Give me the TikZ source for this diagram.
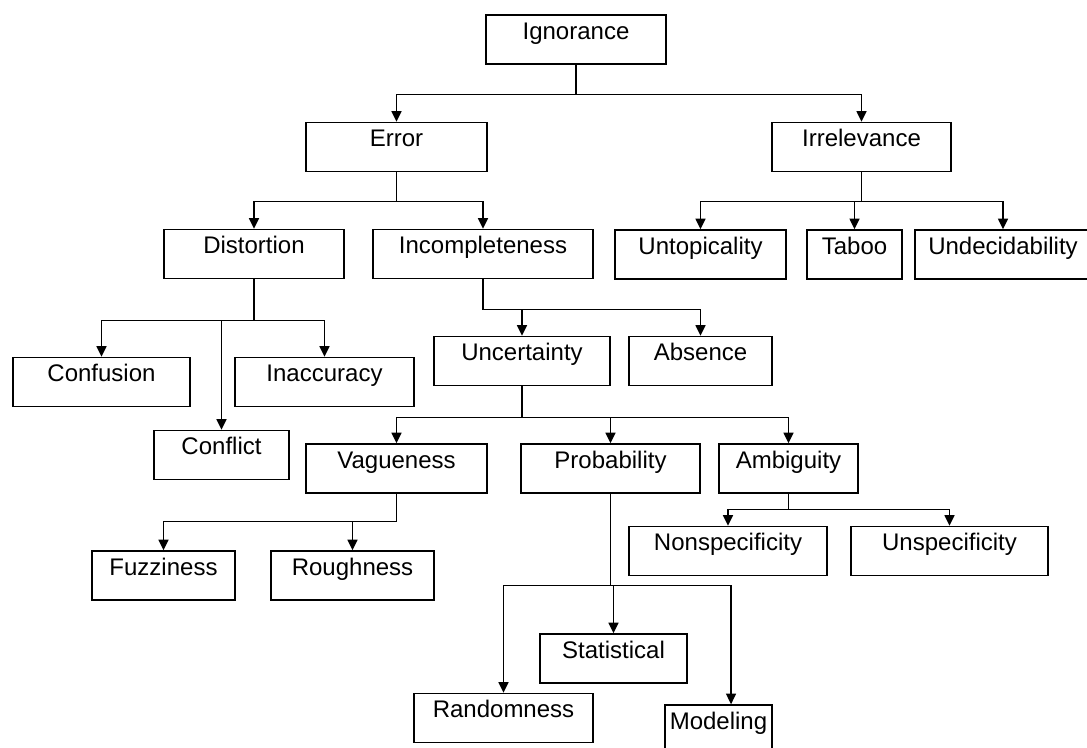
\documentclass[tikz,border=0pt]{standalone}
\usepackage{fontspec}
\setmainfont{Liberation Sans}
\usetikzlibrary{arrows.meta}

\tikzset{every picture/.style={line width=0.75pt}}

\begin{document}
\begin{tikzpicture}[x=0.75pt,y=0.75pt,yscale=-1,xscale=1,
	box/.style={draw, line width=1.1pt, inner sep=0pt, text height=18pt, text depth=18.75pt, font=\fontsize{18}{20}\selectfont},
	bw/.style={minimum width=#1*0.75pt},
	link/.style={draw, line width=1.1pt, -{Triangle[length=8pt,width=7.5pt]}}]
	%set diagram size to 1087 x 747
	\useasboundingbox (0,0) rectangle (1087,747);
	\clip (0,0) rectangle (1087,747);
	
	%Shape: Rectangle [id:ignorance] 
	\node [box,bw=180] (ign) at (576,39.5) {Ignorance};
	%Shape: Rectangle [id:error] 
	\node [box,bw=181] (err) at (396.5,147) {Error};
	%Shape: Rectangle [id:irrelevance] 
	\node [box,bw=179] (irr) at (861.5,147) {Irrelevance};
	%Shape: Rectangle [id:distortion] 
	\node [box,bw=180] (dis) at (254,254) {Distortion};
	%Shape: Rectangle [id:incompleteness] 
	\node [box,bw=220] (inc) at (483,254) {Incompleteness};
	%Shape: Rectangle [id:untopicality] 
	\node [box,bw=171] (unt) at (700.5,254.5) {Untopicality};
	%Shape: Rectangle [id:taboo] 
	\node [box,bw=95] (tab) at (854.5,254.5) {Taboo};
	%Shape: Rectangle [id:undecidability] 
	\node [box,bw=176] (und) at (1003,254.5) {Undecidability};
	%Shape: Rectangle [id:confusion] 
	\node [box,bw=177] (cnf) at (101.5,382) {Confusion};
	%Shape: Rectangle [id:inaccuracy] 
	\node [box,bw=179] (ina) at (324.5,382) {Inaccuracy};
	%Shape: Rectangle [id:conflict] 
	\node [box,bw=135] (cfl) at (221.5,455) {Conflict};
	%Shape: Rectangle [id:uncertainty] 
	\node [box,bw=176] (unc) at (522,361) {Uncertainty};
	%Shape: Rectangle [id:absence] 
	\node [box,bw=143] (abs) at (700.5,361) {Absence};
	%Shape: Rectangle [id:vagueness] 
	\node [box,bw=181] (vag) at (396.5,468.5) {Vagueness};
	%Shape: Rectangle [id:probability] 
	\node [box,bw=179] (pro) at (610.5,468.5) {Probability};
	%Shape: Rectangle [id:ambiguity] 
	\node [box,bw=139] (amb) at (788.5,468.5) {Ambiguity};
	%Shape: Rectangle [id:fuzziness] 
	\node [box,bw=143] (fuz) at (163.5,575.5) {Fuzziness};
	%Shape: Rectangle [id:roughness] 
	\node [box,bw=163] (rou) at (352.5,575.5) {Roughness};
	%Shape: Rectangle [id:nonspecificity] 
	\node [box,bw=198] (non) at (728,551) {Nonspecificity};
	%Shape: Rectangle [id:unspecificity] 
	\node [box,bw=197] (uns) at (949.5,551) {Unspecificity};
	%Shape: Rectangle [id:statistical] 
	\node [box,bw=147] (sta) at (613.5,658.5) {Statistical};
	%Shape: Rectangle [id:randomness] 
	\node [box,bw=179] (ran) at (503.5,718) {Randomness};
	%Shape: Rectangle [id:modeling] 
	\node [box,bw=107] (mod) at (718.5,729.5) {Modeling};
	
	%Connectors
	\draw [link] (ign.south) -- ++(0,30) -| (err.north) ;
	\draw [link] (ign.south) -- ++(0,30) -| (irr.north) ;
	\draw [link] (err.south) -- ++(0,29) -| (dis.north) ;
	\draw [link] (err.south) -- ++(0,29) -| (inc.north) ;
	\draw [link] (irr.south) -- ++(0,29) -| (unt.north) ;
	\draw [link] (irr.south) -- ++(0,29) -| (tab.north) ;
	\draw [link] (irr.south) -- ++(0,29) -| (und.north) ;
	\draw [link] (dis.south) -- ++(0,41) -| (cnf.north) ;
	\draw [link] (dis.south) -- ++(0,41) -| (cfl.north) ;
	\draw [link] (dis.south) -- ++(0,41) -| (ina.north) ;
	\draw [link] (inc.south) -- ++(0,30) -| (unc.north) ;
	\draw [link] (inc.south) -- ++(0,30) -| (abs.north) ;
	\draw [link] (unc.south) -- ++(0,31) -| (vag.north) ;
	\draw [link] (unc.south) -- ++(0,31) -| (pro.north) ;
	\draw [link] (unc.south) -- ++(0,31) -| (amb.north) ;
	\draw [link] (vag.south) -- ++(0,28) -| (fuz.north) ;
	\draw [link] (vag.south) -- ++(0,28) -| (rou.north) ;
	\draw [link] (amb.south) -- ++(0,16) -| (non.north) ;
	\draw [link] (amb.south) -- ++(0,16) -| (uns.north) ;
	\draw [link] (pro.south) -- ++(0,92) -| (ran.north) ;
	\draw [link] (pro.south) -- ++(0,92) -| (sta.north) ;
	\draw [link] (pro.south) -- ++(0,92) -| ([xshift=9.4pt]mod.north) ;
	
\end{tikzpicture}
\end{document}
